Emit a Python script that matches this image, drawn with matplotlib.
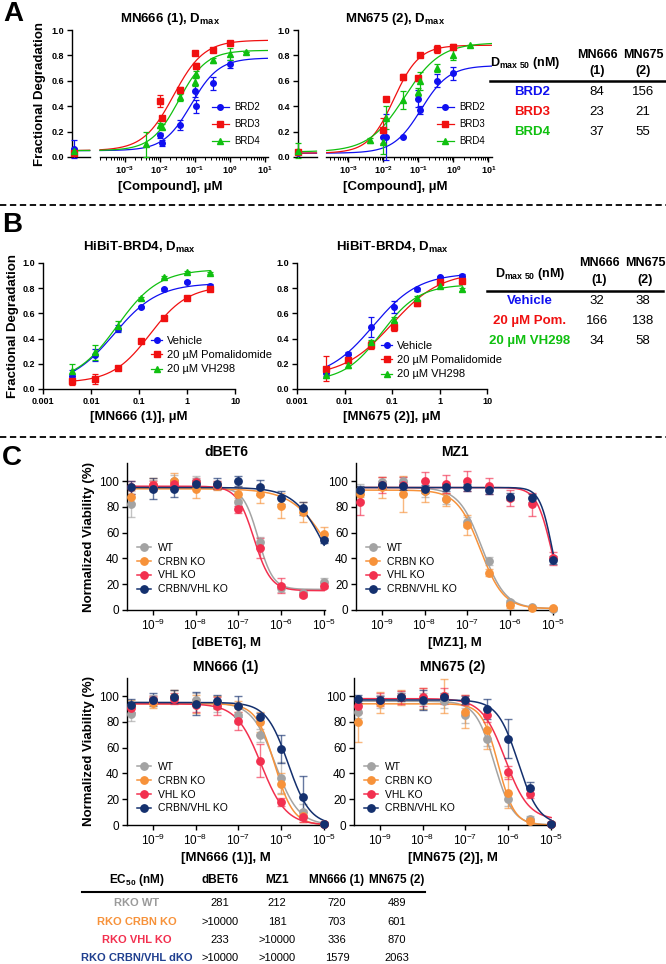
import numpy as np
import matplotlib
matplotlib.use('Agg')
import matplotlib.pyplot as plt
from matplotlib.lines import Line2D
from matplotlib.ticker import FixedLocator, FixedFormatter, NullFormatter

plt.rcParams['font.family'] = ['Liberation Sans', 'DejaVu Sans']
plt.rcParams['mathtext.fontset'] = 'custom'
plt.rcParams['mathtext.rm'] = 'Liberation Sans'
plt.rcParams['mathtext.it'] = 'Liberation Sans:italic'
plt.rcParams['mathtext.bf'] = 'Liberation Sans:bold'

# ---------------- DATA ----------------
# Panel A (fractional degradation), concentrations in uM
A_series = ['BRD2', 'BRD3', 'BRD4']
A_colors = ['#1010F0', '#F01010', '#10C010']
A_markers = ['o', 's', '^']

A1_x = [[0.01, 0.012, 0.037, 0.10, 0.11, 0.33, 1.0],
        [0.01, 0.012, 0.037, 0.10, 0.11, 0.33, 1.0],
        [0.0041, 0.01, 0.012, 0.037, 0.10, 0.11, 0.33, 1.0, 3.0]]
A1_y = [[0.17, 0.11, 0.25, 0.52, 0.40, 0.58, 0.73],
        [0.44, 0.31, 0.53, 0.82, 0.72, 0.84, 0.90],
        [0.10, 0.25, 0.24, 0.47, 0.59, 0.65, 0.76, 0.81, 0.83]]
A1_e = [[0.02, 0.02, 0.04, 0.05, 0.05, 0.05, 0.03],
        [0.05, 0.01, 0.02, 0.01, 0.02, 0.01, 0.01],
        [0.10, 0.02, 0.02, 0.03, 0.03, 0.03, 0.02, 0.05, 0.0]]
A1_ctrl = [0.06, 0.03, 0.05]
A1_ctrl_e = [0.07, 0.02, 0.02]
A1_fit = [(0.05, 0.78, 0.08, 1.1), (0.05, 0.92, 0.025, 1.0), (0.05, 0.84, 0.035, 1.1)]

A2_x = [[0.01, 0.012, 0.037, 0.10, 0.11, 0.33, 1.0],
        [0.01, 0.012, 0.037, 0.10, 0.11, 0.33, 1.0],
        [0.0041, 0.01, 0.012, 0.037, 0.10, 0.11, 0.33, 1.0, 3.0]]
A2_y = [[0.16, 0.16, 0.16, 0.46, 0.37, 0.60, 0.66],
        [0.21, 0.46, 0.63, 0.62, 0.80, 0.85, 0.87],
        [0.13, 0.12, 0.31, 0.45, 0.51, 0.60, 0.70, 0.80, 0.88]]
A2_e = [[0.0, 0.18, 0.0, 0.07, 0.03, 0.05, 0.05],
        [0.10, 0.0, 0.02, 0.02, 0.0, 0.03, 0.02],
        [0.02, 0.10, 0.09, 0.07, 0.03, 0.07, 0.03, 0.04, 0.0]]
A2_ctrl = [0.03, 0.04, 0.05]
A2_ctrl_e = [0.0, 0.01, 0.06]
A2_fit = [(0.03, 0.72, 0.12, 1.1), (0.03, 0.88, 0.02, 1.2), (0.04, 0.90, 0.04, 0.85)]

A_table_rows = ['BRD2', 'BRD3', 'BRD4']
A_table_mn666 = ['84', '23', '37']
A_table_mn675 = ['156', '21', '55']

# Panel B
B_series = ['Vehicle', '20 µM Pomalidomide', '20 µM VH298']
B_x = [0.0041, 0.012, 0.037, 0.11, 0.33, 1.0, 3.0]
B1_y = [[0.10, 0.27, 0.48, 0.65, 0.79, 0.85, 0.82],
        [0.06, 0.08, 0.17, 0.38, 0.56, 0.72, 0.79],
        [0.14, 0.29, 0.50, 0.72, 0.89, 0.93, 0.92]]
B1_e = [[0.05, 0.05, 0.03, 0.01, 0.01, 0.01, 0.01],
        [0.03, 0.04, 0.01, 0.01, 0.01, 0.01, 0.01],
        [0.06, 0.06, 0.04, 0.01, 0.01, 0.01, 0.01]]
B1_fit = [(0.03, 0.84, 0.03, 0.95), (0.05, 0.82, 0.17, 1.1), (0.05, 0.95, 0.035, 1.0)]
B2_y = [[0.13, 0.28, 0.49, 0.65, 0.79, 0.89, 0.90],
        [0.16, 0.23, 0.35, 0.49, 0.68, 0.85, 0.86],
        [0.11, 0.19, 0.37, 0.55, 0.72, 0.82, 0.79]]
B2_e = [[0.03, 0.01, 0.08, 0.05, 0.01, 0.01, 0.01],
        [0.10, 0.02, 0.03, 0.03, 0.02, 0.02, 0.02],
        [0.02, 0.02, 0.02, 0.02, 0.02, 0.02, 0.01]]
B2_fit = [(0.08, 0.92, 0.04, 0.9), (0.10, 0.93, 0.10, 0.85), (0.06, 0.83, 0.06, 1.1)]
B_table_rows = ['Vehicle', '20 µM Pom.', '20 µM VH298']
B_table_mn666 = ['32', '166', '34']
B_table_mn675 = ['38', '138', '58']

# Panel C (normalized viability, %), concentrations in M
C_lines = ['WT', 'CRBN KO', 'VHL KO', 'CRBN/VHL KO']
C_colors = ['#A3A3A3', '#F7923A', '#F2304F', '#14306E']
C_log_x = [-9.5, -9.0, -8.5, -8.0, -7.5, -7.0, -6.5, -6.0, -5.5, -5.0]

dBET6_y = [[82, 97, 100, 100, 97, 84, 53, 17, 13, 22],
           [88, 97, 100, 94, 96, 90, 90, 81, 76, 59],
           [95, 97, 98, 99, 97, 78, 48, 19, 12, 19],
           [95, 94, 94, 98, 98, 100, 95, 87, 79, 54]]
dBET6_e = [[10, 4, 5, 4, 3, 3, 4, 3, 2, 3],
           [5, 5, 6, 7, 3, 5, 7, 10, 8, 5],
           [5, 3, 3, 3, 3, 3, 8, 6, 2, 2],
           [5, 8, 6, 3, 4, 4, 6, 5, 5, 2]]
dBET6_fit = [(16, 95, 2.9e-7, 2.5), (0, 94, 1.4e-5, 1.0), (15, 96, 2.3e-7, 2.2), (0, 95, 1.1e-5, 1.2)]

MZ1_y = [[93, 99, 100, 92, 86, 68, 38, 6, 2, 0.5],
         [90, 95, 90, 92, 86, 66, 29, 3.5, 1.5, 1.5],
         [84, 97, 97, 100, 98, 100, 96, 87, 82, 40],
         [93, 97, 96, 94, 95, 95, 93, 88, 87, 39]]
MZ1_e = [[5, 4, 3, 4, 4, 4, 3, 2, 1, 1],
         [5, 8, 14, 8, 5, 8, 3, 2, 1, 1],
         [10, 6, 6, 7, 7, 8, 6, 6, 9, 5],
         [3, 3, 3, 3, 3, 3, 3, 3, 3, 3]]
MZ1_fit = [(1, 95, 2.2e-7, 1.6), (1, 93, 2.0e-7, 1.6), (0, 95, 9.0e-6, 2.5), (0, 95, 9.5e-6, 3.0)]

MN666_y = [[86, 97.5, 99.5, 97, 94, 85, 69.5, 36.5, 10, 1],
           [92, 95, 99.5, 94, 95, 92, 80, 32, 7, 1],
           [90.5, 97, 98, 93, 92, 81, 50, 18, 6, 1],
           [93, 97, 99.5, 94, 96, 92, 84, 59, 22, 1]]
MN666_e = [[5, 3, 5, 5, 6, 6, 5, 12, 6, 1],
           [5, 4, 5, 7, 5, 4, 8, 8, 5, 1],
           [4, 3, 4, 5, 7, 7, 13, 3, 4, 1],
           [5, 5, 5, 9, 5, 8, 3, 11, 16, 1]]
MN666_fit = [(0, 95, 7.2e-7, 1.6), (0, 94, 7.0e-7, 2.0), (0, 94, 3.4e-7, 1.5), (0, 95, 1.45e-6, 1.7)]

MN675_y = [[88, 96, 100, 96, 96, 85, 67, 20, 5, 1],
           [80, 95, 99, 98, 100, 88, 74, 25, 3, 1],
           [92, 97, 99, 99, 100, 97, 85, 41, 24, 1],
           [98, 97, 99, 97, 99, 97, 90, 67, 29, 1]]
MN675_e = [[5, 5, 4, 6, 5, 6, 6, 5, 2, 1],
           [16, 8, 6, 8, 13, 13, 15, 12, 2, 1],
           [5, 5, 5, 7, 6, 4, 5, 5, 3, 1],
           [3, 3, 3, 8, 3, 3, 8, 15, 4, 1]]
MN675_fit = [(0, 96, 4.7e-7, 2.0), (0, 94, 5.8e-7, 2.3), (4, 98, 8.5e-7, 1.6), (0, 97, 1.7e-6, 1.8)]

C_table_cols = ['dBET6', 'MZ1', 'MN666 (1)', 'MN675 (2)']
C_table_rows = ['RKO WT', 'RKO CRBN KO', 'RKO VHL KO', 'RKO CRBN/VHL dKO']
C_table_colors = ['#9A9A9A', '#F7923A', '#F2304F', '#1F3F8F']
C_table_vals = [['281', '212', '720', '489'],
                ['>10000', '181', '703', '601'],
                ['233', '>10000', '336', '870'],
                ['>10000', '>10000', '1579', '2063']]

# ---------------- FIGURE ----------------
W, H = 666, 964
fig = plt.figure(figsize=(W / 100, H / 100), dpi=100)


def add_ax(x0, y0, x1, y1):
    return fig.add_axes([x0 / W, 1 - y1 / H, (x1 - x0) / W, (y1 - y0) / H])


def txt(x, y, s, **kw):
    kw.setdefault('ha', 'center')
    kw.setdefault('va', 'center')
    fig.text(x / W, 1 - y / H, s, **kw)


def rise(x, b, t, ec, h):
    return b + (t - b) / (1 + (ec / x) ** h)


def fall(x, b, t, ec, h):
    return b + (t - b) / (1 + (x / ec) ** h)


def style_ax(ax):
    for s in ['top', 'right']:
        ax.spines[s].set_visible(False)
    for s in ['left', 'bottom']:
        ax.spines[s].set_linewidth(1.0)
    ax.tick_params(which='major', length=3.5, width=1.0, pad=2)
    ax.tick_params(which='minor', length=2, width=0.7)


# ---------- Panel A ----------
def panel_a(ax, xs, ys, es, ctrl, ctrl_e, fits, xl, brk, ctrl_x, title, legx, legy):
    style_ax(ax)
    ax.set_xscale('log')
    ax.set_xlim(xl)
    ax.set_ylim(0, 1.0)
    ax.spines['bottom'].set_visible(False)
    tr = ax.get_xaxis_transform()
    ax.plot([xl[0], brk[0]], [0, 0], transform=tr, color='k', lw=1, clip_on=False)
    ax.plot([brk[1], xl[1]], [0, 0], transform=tr, color='k', lw=1, clip_on=False)
    grid = np.logspace(np.log10(xl[0]), np.log10(xl[1]), 400)
    for i in range(3):
        c = A_colors[i]
        yy = rise(grid, *fits[i])
        yy = np.where((grid > brk[0]) & (grid < brk[1]), np.nan, yy)
        ax.plot(grid, yy, color=c, lw=0.9, zorder=2)
        ax.errorbar(xs[i], ys[i], yerr=es[i], fmt=A_markers[i], color=c, ms=4,
                    capsize=2, elinewidth=0.9, capthick=0.9, zorder=3, clip_on=False)
        ax.errorbar([ctrl_x], [ctrl[i]], yerr=[ctrl_e[i]], fmt=A_markers[i], color=c, ms=4,
                    capsize=2, elinewidth=0.9, capthick=0.9, zorder=3, clip_on=False)
    majors = [1e-3, 1e-2, 1e-1, 1e0, 1e1]
    ax.xaxis.set_major_locator(FixedLocator(majors))
    ax.xaxis.set_major_formatter(FixedFormatter([r'$\mathbf{10^{-3}}$', r'$\mathbf{10^{-2}}$',
                                                 r'$\mathbf{10^{-1}}$', r'$\mathbf{10^{0}}$',
                                                 r'$\mathbf{10^{1}}$']))
    minors = [m * 10.0 ** d for d in range(-4, 1) for m in range(2, 10) if m * 10.0 ** d >= brk[1] * 0.99]
    ax.xaxis.set_minor_locator(FixedLocator(minors))
    ax.xaxis.set_minor_formatter(NullFormatter())
    ax.set_yticks([0, 0.2, 0.4, 0.6, 0.8, 1.0])
    ax.set_yticklabels(['0.0', '0.2', '0.4', '0.6', '0.8', '1.0'])
    for lab in ax.get_xticklabels() + ax.get_yticklabels():
        lab.set_fontsize(6.5)
        lab.set_fontweight('bold')
    ax.set_xlabel('[Compound], µM', fontsize=9.5, fontweight='bold', labelpad=3)
    ax.set_title(title, fontsize=9.5, fontweight='bold', pad=6)
    handles = [Line2D([], [], color=A_colors[i], marker=A_markers[i], ms=4, lw=0.9) for i in range(3)]
    ax.legend(handles, A_series, loc='upper left', bbox_to_anchor=(legx / W, 1 - legy / H),
              bbox_transform=fig.transFigure, frameon=False, fontsize=7, handlelength=1.7,
              handletextpad=0.6, labelspacing=0.72, borderpad=0, borderaxespad=0)


axA1 = add_ax(72, 30, 268, 157)
panel_a(axA1, A1_x, A1_y, A1_e, A1_ctrl, A1_ctrl_e, A1_fit, (10 ** -4.51, 10 ** 1.1),
        (1e-4, 10 ** -3.71), 10 ** -4.45, r'MN666 (1), D$_{\mathbf{max}}$', 212, 102)
axA1.set_ylabel('Fractional Degradation', fontsize=9.5, fontweight='bold', labelpad=4)
axA2 = add_ax(298, 30, 492, 157)
panel_a(axA2, A2_x, A2_y, A2_e, A2_ctrl, A2_ctrl_e, A2_fit, (10 ** -4.43, 10 ** 1.1),
        (10 ** -3.89, 10 ** -3.62), 10 ** -4.42, r'MN675 (2), D$_{\mathbf{max}}$', 437, 102)

# Table A
txt(525, 63, r'D$_{\mathbf{max\ 50}}$ (nM)', fontsize=9, fontweight='bold')
txt(597, 55, 'MN666', fontsize=9, fontweight='bold')
txt(597, 71, '(1)', fontsize=9, fontweight='bold')
txt(643, 55, 'MN675', fontsize=9, fontweight='bold')
txt(643, 71, '(2)', fontsize=9, fontweight='bold')
fig.add_artist(Line2D([490 / W, 666 / W], [1 - 81 / H, 1 - 81 / H], color='k', lw=1.8))
for i, r in enumerate(A_table_rows):
    yy = 92 + 20 * i
    txt(532, yy, r, fontsize=9.5, fontweight='bold', color=A_colors[i])
    txt(597, yy, A_table_mn666[i], fontsize=9.5)
    txt(643, yy, A_table_mn675[i], fontsize=9.5)

# ---------- Panel B ----------
B_colors = ['#1010F0', '#F01010', '#10C010']
B_markers = ['o', 's', '^']


def panel_b(ax, ys, es, fits, xlabel, legx, legy):
    style_ax(ax)
    ax.set_xscale('log')
    ax.set_xlim(1e-3, 10)
    ax.set_ylim(0, 1.0)
    grid = np.logspace(np.log10(B_x[0]), np.log10(B_x[-1]), 300)
    for i in range(3):
        c = B_colors[i]
        ax.plot(grid, rise(grid, *fits[i]), color=c, lw=0.9, zorder=2)
        ax.errorbar(B_x, ys[i], yerr=es[i], fmt=B_markers[i], color=c, ms=4,
                    capsize=2, elinewidth=0.9, capthick=0.9, zorder=3, clip_on=False)
    ax.xaxis.set_major_locator(FixedLocator([1e-3, 1e-2, 1e-1, 1, 10]))
    ax.xaxis.set_major_formatter(FixedFormatter(['0.001', '0.01', '0.1', '1', '10']))
    ax.xaxis.set_minor_locator(FixedLocator([]))
    ax.set_yticks([0, 0.2, 0.4, 0.6, 0.8, 1.0])
    ax.set_yticklabels(['0.0', '0.2', '0.4', '0.6', '0.8', '1.0'])
    for lab in ax.get_xticklabels() + ax.get_yticklabels():
        lab.set_fontsize(6.5)
        lab.set_fontweight('bold')
    ax.set_xlabel(xlabel, fontsize=9.5, fontweight='bold', labelpad=4)
    ax.set_title(r'HiBiT-BRD4, D$_{\mathbf{max}}$', fontsize=9.5, fontweight='bold', pad=9)
    handles = [Line2D([], [], color=B_colors[i], marker=B_markers[i], ms=4, lw=0.9) for i in range(3)]
    ax.legend(handles, B_series, loc='upper left', bbox_to_anchor=(legx / W, 1 - legy / H),
              bbox_transform=fig.transFigure, frameon=False, fontsize=8, handlelength=1.0,
              handletextpad=0.4, labelspacing=0.38, borderpad=0, borderaxespad=0)


axB1 = add_ax(43, 263, 235, 389)
panel_b(axB1, B1_y, B1_e, B1_fit, '[MN666 (1)], µM', 151, 336)
axB1.set_ylabel('Fractional Degradation', fontsize=9.5, fontweight='bold', labelpad=3)
axB2 = add_ax(297, 263, 487, 389)
panel_b(axB2, B2_y, B2_e, B2_fit, '[MN675 (2)], µM', 381, 341)

# Table B
txt(530, 274, r'D$_{\mathbf{max\ 50}}$ (nM)', fontsize=9, fontweight='bold')
txt(599, 263, 'MN666', fontsize=9, fontweight='bold')
txt(599, 280, '(1)', fontsize=9, fontweight='bold')
txt(645, 263, 'MN675', fontsize=9, fontweight='bold')
txt(645, 280, '(2)', fontsize=9, fontweight='bold')
fig.add_artist(Line2D([487 / W, 663 / W], [1 - 291 / H, 1 - 291 / H], color='k', lw=1.8))
for i, r in enumerate(B_table_rows):
    yy = 301 + 20 * i
    txt(530, yy, r, fontsize=9.5, fontweight='bold', color=B_colors[i])
    txt(597, yy, B_table_mn666[i], fontsize=9.5)
    txt(643, yy, B_table_mn675[i], fontsize=9.5)

# ---------- Panel C ----------
C_x = [10.0 ** v for v in C_log_x]
C_sup = [r'$10^{-9}$', r'$10^{-8}$', r'$10^{-7}$', r'$10^{-6}$', r'$10^{-5}$']


def panel_c(ax, ys, es, fits, title, xlabel, legx, legy, ylabel=False):
    style_ax(ax)
    ax.set_xscale('log')
    ax.set_xlim(10 ** -9.6, 10 ** -4.98)
    ax.set_ylim(0, 114)
    grid = np.logspace(-9.6, -5.0, 400)
    for i in range(4):
        c = C_colors[i]
        ax.plot(grid, fall(grid, *fits[i]), color=c, lw=1.1, zorder=2 + i * 0.1)
        ax.errorbar(C_x, ys[i], yerr=es[i], fmt='none', ecolor=c, alpha=0.65,
                    capsize=3, elinewidth=1.0, capthick=1.0, zorder=2 + i * 0.1, clip_on=False)
        ax.plot(C_x, ys[i], 'o', color=c, ms=5.3, zorder=3 + i * 0.1, clip_on=False)
    ax.xaxis.set_major_locator(FixedLocator([1e-9, 1e-8, 1e-7, 1e-6, 1e-5]))
    ax.xaxis.set_major_formatter(FixedFormatter(C_sup))
    ax.xaxis.set_minor_locator(FixedLocator([]))
    ax.set_yticks([0, 20, 40, 60, 80, 100])
    for lab in ax.get_xticklabels() + ax.get_yticklabels():
        lab.set_fontsize(8.5)
    ax.set_xlabel(xlabel, fontsize=9.5, fontweight='bold', labelpad=3)
    ax.set_title(title, fontsize=10, fontweight='bold', pad=5)
    if ylabel:
        ax.set_ylabel('Normalized Viability (%)', fontsize=9.5, fontweight='bold', labelpad=3)
    handles = [Line2D([], [], color=C_colors[i], marker='o', ms=5.3, lw=1.1) for i in range(4)]
    ax.legend(handles, C_lines, loc='upper left', bbox_to_anchor=(legx / W, 1 - legy / H),
              bbox_transform=fig.transFigure, frameon=False, fontsize=7.5, handlelength=1.3,
              handletextpad=0.7, labelspacing=0.36, borderpad=0, borderaxespad=0)


axC1 = add_ax(127, 463, 325, 610)
panel_c(axC1, dBET6_y, dBET6_e, dBET6_fit, 'dBET6', '[dBET6], M', 137, 543, ylabel=True)
axC2 = add_ax(356, 463, 554, 610)
panel_c(axC2, MZ1_y, MZ1_e, MZ1_fit, 'MZ1', '[MZ1], M', 366, 543)
axC3 = add_ax(127, 678, 325, 825)
panel_c(axC3, MN666_y, MN666_e, MN666_fit, 'MN666 (1)', '[MN666 (1)], M', 137, 762, ylabel=True)
axC4 = add_ax(354, 678, 552, 825)
panel_c(axC4, MN675_y, MN675_e, MN675_fit, 'MN675 (2)', '[MN675 (2)], M', 364, 762)

# Table C
col_x = [220, 277, 337, 397]
txt(137, 880, r'EC$_{\mathbf{50}}$ (nM)', fontsize=8.5, fontweight='bold')
for j, cname in enumerate(C_table_cols):
    txt(col_x[j], 880, cname, fontsize=8.5, fontweight='bold')
fig.add_artist(Line2D([82 / W, 425 / W], [1 - 892 / H, 1 - 892 / H], color='k', lw=1.5))
row_y = [903, 922, 940, 958]
for i, r in enumerate(C_table_rows):
    txt(137, row_y[i], r, fontsize=8, fontweight='bold', color=C_table_colors[i])
    for j in range(4):
        txt(col_x[j], row_y[i], C_table_vals[i][j], fontsize=8)

# Panel letters and separators
txt(13, 14, 'A', fontsize=20, fontweight='bold')
txt(12, 225, 'B', fontsize=20, fontweight='bold')
txt(12, 458, 'C', fontsize=20, fontweight='bold')
for yy in [205, 437]:
    fig.add_artist(Line2D([0, 1], [1 - yy / H, 1 - yy / H], color='k', lw=1.3, ls=(0, (3.5, 2))))

fig.savefig('out.png', dpi=100)
